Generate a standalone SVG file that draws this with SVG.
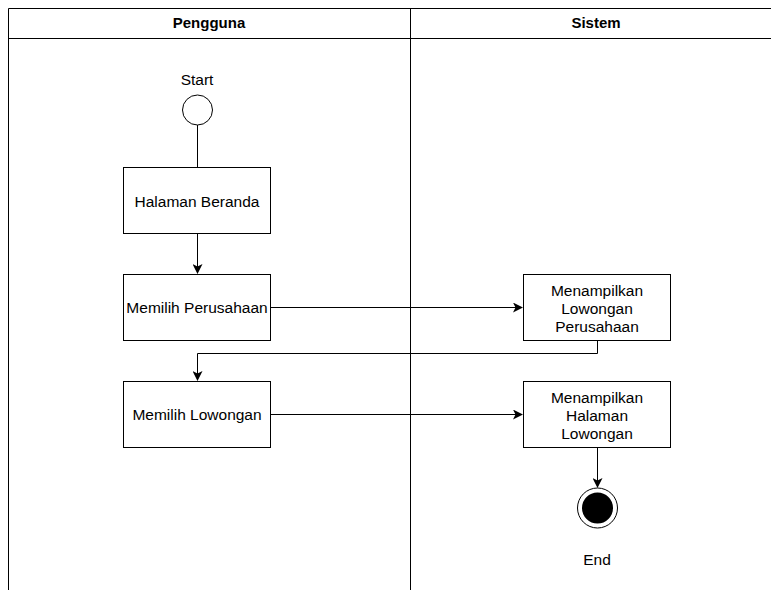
<svg xmlns="http://www.w3.org/2000/svg" width="771" height="590" viewBox="0 0 771 590">
  <style>
    text { font-family: "Liberation Sans", Arial, Helvetica, sans-serif; font-size: 15.5px; fill: #000; text-anchor: middle; }
    .hdr { font-weight: bold; font-size: 15px; }
    .lane { fill: none; stroke: #000; stroke-width: 1; }
    .box { fill: #fff; stroke: #000; stroke-width: 1; }
    .edge { fill: none; stroke: #000; stroke-width: 1; }
  </style>
  <defs>
    <marker id="arrow" viewBox="0 0 10 10" refX="9" refY="5" markerWidth="10" markerHeight="10" markerUnits="userSpaceOnUse" orient="auto">
      <path d="M0,0 L10,5 L0,10 L2.5,5 Z" fill="#000"/>
    </marker>
  </defs>
  <rect width="771" height="590" fill="#fff"/>

  <!-- swimlanes -->
  <g id="lanes">
    <path class="lane" d="M8.5,590 V8.5 H782 M8.5,38.5 H782 M410.5,8.5 V590"/>
    <text class="hdr" x="209" y="28">Pengguna</text>
    <text class="hdr" x="596" y="28">Sistem</text>
  </g>

  <!-- connectors -->
  <g id="connectors">
    <path class="edge" d="M197.5,125 V167"/>
    <path class="edge" d="M197.5,234 V273" marker-end="url(#arrow)"/>
    <path class="edge" d="M270,307.5 H522" marker-end="url(#arrow)"/>
    <path class="edge" d="M597.5,341 V353.5 H197.5 V380" marker-end="url(#arrow)"/>
    <path class="edge" d="M270,414.5 H522" marker-end="url(#arrow)"/>
    <path class="edge" d="M597.5,447 V487" marker-end="url(#arrow)"/>
  </g>

  <g id="start">
    <text x="197" y="85">Start</text>
    <circle cx="197.5" cy="110" r="15" fill="#fff" stroke="#000" stroke-width="1"/>
  </g>

  <g id="halaman-beranda">
    <rect class="box" x="123.5" y="167.5" width="147" height="66"/>
    <text x="197" y="207">Halaman Beranda</text>
  </g>

  <g id="memilih-perusahaan">
    <rect class="box" x="123.5" y="274.5" width="147" height="66"/>
    <text x="197" y="313">Memilih Perusahaan</text>
  </g>

  <g id="memilih-lowongan">
    <rect class="box" x="123.5" y="381.5" width="147" height="66"/>
    <text x="197" y="420">Memilih Lowongan</text>
  </g>

  <g id="menampilkan-lowongan-perusahaan">
    <rect class="box" x="523.5" y="274.5" width="147" height="66"/>
    <text x="597" y="296">Menampilkan</text>
    <text x="597" y="314">Lowongan</text>
    <text x="597" y="332">Perusahaan</text>
  </g>

  <g id="menampilkan-halaman-lowongan">
    <rect class="box" x="523.5" y="381.5" width="147" height="66"/>
    <text x="597" y="403">Menampilkan</text>
    <text x="597" y="421">Halaman</text>
    <text x="597" y="439">Lowongan</text>
  </g>

  <g id="end">
    <circle cx="597.5" cy="508" r="20" fill="#fff" stroke="#000" stroke-width="1"/>
    <circle cx="597.5" cy="508" r="15.5" fill="#000"/>
    <text x="597" y="565">End</text>
  </g>
</svg>
